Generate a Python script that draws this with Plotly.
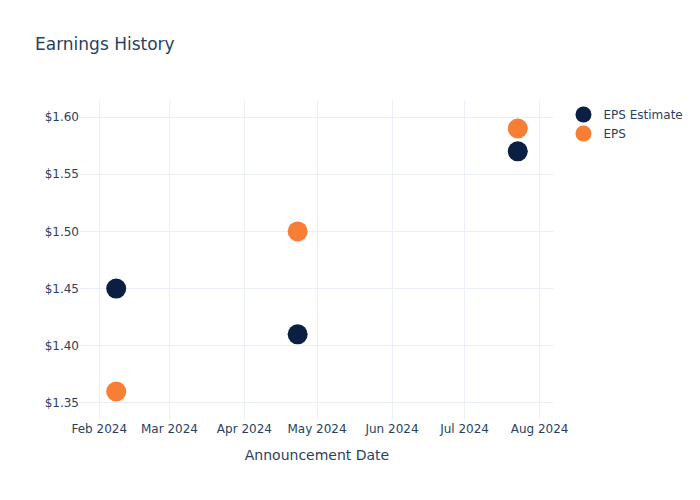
import plotly.graph_objects as go

dates = ["2024-02-08", "2024-04-23", "2024-07-23"]
eps_estimate = [1.45, 1.41, 1.57]
eps_actual = [1.36, 1.50, 1.59]

fig = go.Figure()
fig.add_trace(go.Scatter(x=dates, y=eps_estimate, mode="markers", name="EPS Estimate",
                         marker=dict(color="#0b1f42", size=20)))
fig.add_trace(go.Scatter(x=dates, y=eps_actual, mode="markers", name="EPS",
                         marker=dict(color="#f77f35", size=20)))
fig.update_layout(
    template="plotly_white",
    width=700, height=500,
    font=dict(family="DejaVu Sans"),
    title=dict(text="Earnings History"),
    xaxis=dict(title=dict(text="Announcement Date")),
    yaxis=dict(tickprefix="$", tickformat=".2f"),
)
fig.write_html("out.html")
